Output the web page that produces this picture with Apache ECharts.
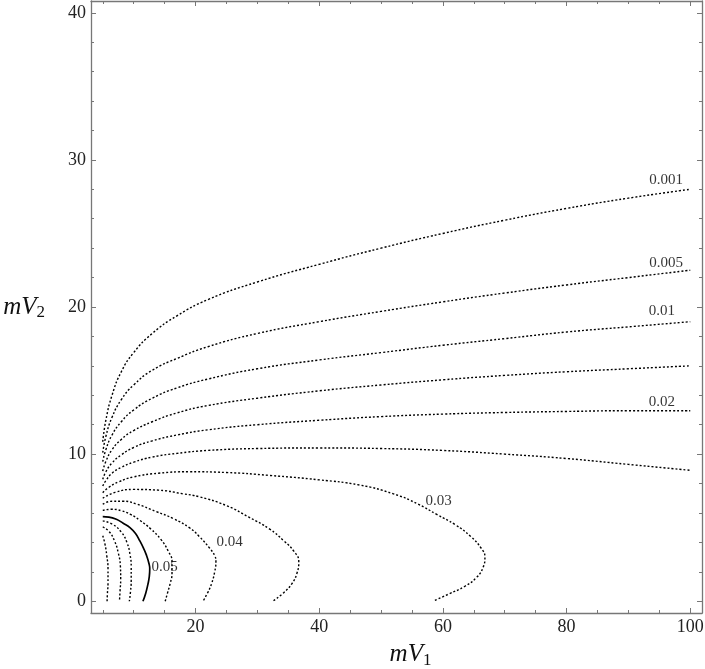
<!DOCTYPE html>
<html>
<head>
<meta charset="utf-8">
<title>contours</title>
<script src="https://cdn.jsdelivr.net/npm/echarts@6/dist/echarts.min.js"></script>
<style>
  html, body { margin: 0; padding: 0; background: #fff; }
  #chart { width: 705px; height: 669px; }
</style>
</head>
<body>
<div id="chart"></div>
<script>
// contour levels as [mV1, mV2] points
const c001 = [[5,10.84],[5.5,12.3],[6.5,14.0],[8,15.6],[10,16.9],[13,18.2],[17,19.4],[22,20.5],[30,21.7],[40,22.9],[50,24.0],[60,25.0],[70,25.9],[80,26.7],[90,27.4],[100,28.0]]
const c005 = [[5,10.1],[5.5,11.2],[6.5,12.5],[8,13.7],[10,14.7],[13,15.7],[17,16.5],[22,17.3],[30,18.2],[40,19.0],[50,19.7],[60,20.35],[70,20.95],[80,21.5],[90,22.0],[100,22.5]]
const c010 = [[5,9.49],[5.5,10.3],[6.5,11.3],[8,12.2],[10,13.0],[13,13.8],[17,14.5],[22,15.1],[30,15.8],[40,16.4],[50,16.9],[60,17.4],[70,17.85],[80,18.3],[90,18.65],[100,19.0]]
const c015 = [[5,8.85],[5.5,9.5],[6.5,10.3],[8,11.0],[10,11.6],[13,12.2],[17,12.8],[22,13.3],[30,13.8],[40,14.3],[50,14.7],[60,15.05],[70,15.35],[80,15.6],[90,15.8],[100,16.0]]
const c020 = [[5,8.29],[5.5,8.8],[6.5,9.4],[8,9.95],[10,10.45],[13,10.9],[17,11.3],[22,11.65],[30,12.0],[40,12.3],[50,12.55],[60,12.72],[70,12.83],[80,12.9],[90,12.95],[100,12.95]]
const c025 = [[5,7.83],[5.5,8.2],[6.5,8.7],[8,9.1],[10,9.45],[13,9.8],[17,10.05],[22,10.25],[30,10.38],[40,10.42],[50,10.38],[60,10.25],[70,10.0],[80,9.7],[90,9.3],[100,8.9]]
const c030 = [[5,7.38],[6,7.75],[7.5,8.1],[10,8.45],[14,8.7],[19,8.8],[25,8.75],[32,8.55],[40,8.25],[46.5,7.9],[52,7.3],[56,6.6],[59,5.9],[62,5.2],[64.5,4.4],[66.2,3.6],[66.8,3.0],[66.5,2.3],[65.4,1.6],[63.5,1.0],[61,0.5],[58.4,0]]
const c035 = [[5,7.0],[7,7.4],[10,7.6],[14,7.55],[18,7.3],[20.6,7.1],[25,6.5],[28.7,5.7],[32,4.9],[34.3,4.1],[35.9,3.4],[36.7,2.7],[36.4,1.9],[35.6,1.2],[34.3,0.6],[32.5,0]]
const c040 = [[5,6.59],[6.5,6.8],[8.2,6.8],[10.5,6.6],[13.6,6.1],[16.5,5.6],[19,5.0],[20.6,4.4],[22.3,3.6],[23.1,3.1],[23.3,2.7],[23.1,2.0],[22.6,1.2],[22.0,0.6],[21.2,0]]
const c045 = [[5,6.18],[6.5,6.25],[8,6.15],[9.5,5.9],[11,5.5],[12.8,4.9],[14.4,4.2],[15.6,3.4],[16.2,2.7],[16.2,1.9],[15.9,1.2],[15.5,0.6],[15.1,0]]
const c050 = [[5,5.75],[6,5.72],[7.2,5.57],[8.3,5.3],[9.4,5.0],[10.3,4.6],[11,4.1],[11.6,3.6],[12,3.2],[12.45,2.6],[12.6,2.2],[12.5,1.6],[12.3,1.15],[11.95,0.55],[11.5,0]]
const c055 = [[5,5.46],[6.5,5.25],[8,4.7],[8.9,4.0],[9.4,3.2],[9.6,2.3],[9.6,1.4],[9.5,0.7],[9.3,0]]
const c060 = [[5,5.05],[6,4.75],[6.9,4.1],[7.5,3.3],[7.85,2.4],[7.9,1.5],[7.8,0.7],[7.7,0]]
const c065 = [[5,4.45],[5.35,3.9],[5.65,3.1],[5.85,2.2],[5.85,1.2],[5.75,0.5],[5.7,0]]

const contourLevels = ['0.001','0.005','0.01','0.015','0.02','0.025','0.03','0.035','0.04','0.045','0.05','0.055','0.06','0.065']
const contourLines = [c001,c005,c010,c015,c020,c025,c030,c035,c040,c045,c050,c055,c060,c065]

// labelled levels and where their text sits
const labelText = ['0.001','0.005','0.01','0.02','0.03','0.04','0.05']
const labelX = [96.1, 96.1, 95.4, 95.4, 59.3, 25.5, 15.0]
const labelY = [28.6, 23.0, 19.7, 13.55, 6.8, 4.05, 2.3]

// axes
const xMin = 3.1, xMax = 101.9
const yMin = -0.8, yMax = 40.8
const xMajor = [20, 40, 60, 80, 100]
const xMinor = [5, 10, 15, 25, 30, 35, 45, 50, 55, 65, 70, 75, 85, 90, 95]
const yMajor = [0, 10, 20, 30, 40]
const yMinor = [2, 4, 6, 8, 12, 14, 16, 18, 22, 24, 26, 28, 32, 34, 36, 38]

const frameColor = '#777'
const serif = '"Liberation Serif", "DejaVu Serif", serif'

function frameAxis (pos, min, max, ticks, len, labels, extra) {
  return Object.assign({
    type: 'value',
    position: pos,
    min: min,
    max: max,
    splitLine: { show: false },
    axisLine: { show: !!labels || labels === null, onZero: false, lineStyle: { color: frameColor, width: 1.3 } },
    axisTick: { show: true, inside: true, length: len, customValues: ticks, lineStyle: { color: frameColor, width: 1 } },
    axisLabel: labels ? {
      show: true,
      customValues: labels,
      color: '#222',
      fontFamily: serif,
      fontSize: 18,
      margin: 5
    } : { show: false }
  }, extra || {})
}

// italic "mV" with an upright subscript
const nameRich = {
  i: { fontFamily: serif, fontStyle: 'italic', fontSize: 25, color: '#111' },
  s: { fontFamily: serif, fontSize: 17, color: '#111', padding: [12, 0, 0, 0] }
}

const chart = echarts.init(document.getElementById('chart'))

const series = contourLines.map((pts, i) => ({
  name: contourLevels[i],
  type: 'line',
  data: pts,
  smooth: 0.5,
  showSymbol: false,
  symbol: 'none',
  silent: true,
  xAxisIndex: 0,
  yAxisIndex: 0,
  lineStyle: contourLevels[i] === '0.05'
    ? { color: '#000', width: 1.7, type: 'solid' }
    : { color: '#000', width: 1.4, type: [2, 2] }
}))

series.push({
  type: 'scatter',
  xAxisIndex: 0,
  yAxisIndex: 0,
  symbolSize: 0,
  silent: true,
  data: labelText.map((t, i) => ({ name: t, value: [labelX[i], labelY[i]] })),
  label: {
    show: true,
    position: 'inside',
    formatter: p => p.name,
    color: '#000',
    fontFamily: serif,
    fontSize: 15
  }
})

chart.setOption({
  backgroundColor: '#fff',
  animation: false,
  grid: { left: 91, right: 3, top: 1, bottom: 56, outerBoundsMode: 'none', containLabel: false },
  xAxis: [
    frameAxis('bottom', xMin, xMax, xMajor, 5, xMajor, {
      name: '{i|mV}{s|1}',
      nameLocation: 'middle',
      nameGap: 27,
      nameTextStyle: { padding: [0, 0, 0, 28], rich: nameRich }
    }),
    frameAxis('bottom', xMin, xMax, xMinor, 3, false),
    frameAxis('top', xMin, xMax, xMajor, 5, null),
    frameAxis('top', xMin, xMax, xMinor, 3, false)
  ],
  yAxis: [
    frameAxis('left', yMin, yMax, yMajor, 5, yMajor, {
      name: '{i|mV}{s|2}',
      nameLocation: 'middle',
      nameRotate: 0,
      nameGap: 46,
      nameTextStyle: { rich: nameRich }
    }),
    frameAxis('left', yMin, yMax, yMinor, 3, false),
    frameAxis('right', yMin, yMax, yMajor, 5, null),
    frameAxis('right', yMin, yMax, yMinor, 3, false)
  ],
  series: series
})
</script>
</body>
</html>
